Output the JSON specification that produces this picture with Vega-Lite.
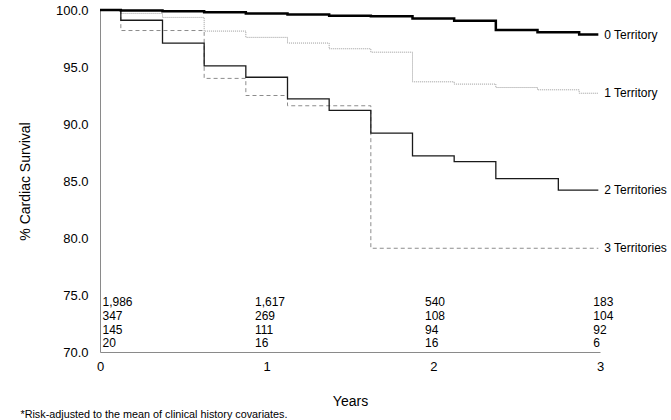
{
  "$schema": "https://vega.github.io/schema/vega-lite/v6.json",
  "width": 500,
  "height": 342,
  "autosize": "none",
  "padding": {"left": 100, "top": 10, "right": 71, "bottom": 68},
  "background": "white",
  "config": {
    "view": {"stroke": null},
    "font": "Liberation Sans",
    "axis": {"grid": false, "ticks": false, "domainColor": "#8a8a8a", "domainWidth": 1, "labelColor": "#000", "titleColor": "#000", "labelFont": "Liberation Sans", "titleFont": "Liberation Sans", "titleFontWeight": "normal"}
  },
  "title": {"text": "*Risk-adjusted to the mean of clinical history covariates.", "orient": "bottom", "anchor": "start", "dx": 2, "offset": 1, "fontSize": 10.8, "fontWeight": "normal", "font": "Liberation Sans", "color": "#000"},
  "datasets": {
    "curves": [
      {"g": "0 Territory", "t": 0, "s": 100}, {"g": "0 Territory", "t": 0.125, "s": 99.95}, {"g": "0 Territory", "t": 0.375, "s": 99.9}, {"g": "0 Territory", "t": 0.625, "s": 99.8}, {"g": "0 Territory", "t": 0.875, "s": 99.7}, {"g": "0 Territory", "t": 1.125, "s": 99.6}, {"g": "0 Territory", "t": 1.375, "s": 99.5}, {"g": "0 Territory", "t": 1.625, "s": 99.45}, {"g": "0 Territory", "t": 1.875, "s": 99.25}, {"g": "0 Territory", "t": 2.125, "s": 99.05}, {"g": "0 Territory", "t": 2.375, "s": 98.25}, {"g": "0 Territory", "t": 2.625, "s": 98.05}, {"g": "0 Territory", "t": 2.875, "s": 97.85}, {"g": "0 Territory", "t": 2.99, "s": 97.85},
      {"g": "1 Territory", "t": 0, "s": 100}, {"g": "1 Territory", "t": 0.125, "s": 99.7}, {"g": "1 Territory", "t": 0.375, "s": 99.35}, {"g": "1 Territory", "t": 0.625, "s": 98.15}, {"g": "1 Territory", "t": 0.875, "s": 97.6}, {"g": "1 Territory", "t": 1.125, "s": 97.1}, {"g": "1 Territory", "t": 1.375, "s": 96.6}, {"g": "1 Territory", "t": 1.625, "s": 96.3}, {"g": "1 Territory", "t": 1.875, "s": 93.7}, {"g": "1 Territory", "t": 2.125, "s": 93.5}, {"g": "1 Territory", "t": 2.375, "s": 93.2}, {"g": "1 Territory", "t": 2.625, "s": 93.0}, {"g": "1 Territory", "t": 2.875, "s": 92.7}, {"g": "1 Territory", "t": 2.99, "s": 92.7},
      {"g": "2 Territories", "t": 0, "s": 100}, {"g": "2 Territories", "t": 0.125, "s": 99.1}, {"g": "2 Territories", "t": 0.375, "s": 97.1}, {"g": "2 Territories", "t": 0.625, "s": 95.1}, {"g": "2 Territories", "t": 0.875, "s": 94.1}, {"g": "2 Territories", "t": 1.125, "s": 92.2}, {"g": "2 Territories", "t": 1.375, "s": 91.2}, {"g": "2 Territories", "t": 1.625, "s": 89.2}, {"g": "2 Territories", "t": 1.875, "s": 87.2}, {"g": "2 Territories", "t": 2.125, "s": 86.7}, {"g": "2 Territories", "t": 2.375, "s": 85.2}, {"g": "2 Territories", "t": 2.75, "s": 84.2}, {"g": "2 Territories", "t": 2.99, "s": 84.2},
      {"g": "3 Territories", "t": 0, "s": 100}, {"g": "3 Territories", "t": 0.125, "s": 98.2}, {"g": "3 Territories", "t": 0.625, "s": 94.0}, {"g": "3 Territories", "t": 0.875, "s": 92.5}, {"g": "3 Territories", "t": 1.125, "s": 91.6}, {"g": "3 Territories", "t": 1.625, "s": 79.1}, {"g": "3 Territories", "t": 2.99, "s": 79.1}
    ],
    "labels": [
      {"g": "0 Territory", "t": 2.99, "s": 97.85},
      {"g": "1 Territory", "t": 2.99, "s": 92.7},
      {"g": "2 Territories", "t": 2.99, "s": 84.2},
      {"g": "3 Territories", "t": 2.99, "s": 79.1}
    ],
    "counts": [
      {"t": 0.015, "s": 74.35, "n": "1,986"}, {"t": 0.015, "s": 73.15, "n": "347"}, {"t": 0.015, "s": 71.95, "n": "145"}, {"t": 0.015, "s": 70.75, "n": "20"},
      {"t": 0.93, "s": 74.35, "n": "1,617"}, {"t": 0.93, "s": 73.15, "n": "269"}, {"t": 0.93, "s": 71.95, "n": "111"}, {"t": 0.93, "s": 70.75, "n": "16"},
      {"t": 1.95, "s": 74.35, "n": "540"}, {"t": 1.95, "s": 73.15, "n": "108"}, {"t": 1.95, "s": 71.95, "n": "94"}, {"t": 1.95, "s": 70.75, "n": "16"},
      {"t": 2.96, "s": 74.35, "n": "183"}, {"t": 2.96, "s": 73.15, "n": "104"}, {"t": 2.96, "s": 71.95, "n": "92"}, {"t": 2.96, "s": 70.75, "n": "6"}
    ]
  },
  "encoding": {
    "x": {"field": "t", "type": "quantitative", "scale": {"domain": [0, 3], "nice": false, "zero": false},
      "axis": {"values": [0, 1, 2, 3], "format": "d", "title": "Years", "labelFlush": false, "labelFontSize": 13, "labelPadding": 8, "titleFontSize": 14, "titlePadding": 21}},
    "y": {"field": "s", "type": "quantitative", "scale": {"domain": [70, 100], "nice": false, "zero": false},
      "axis": {"values": [70, 75, 80, 85, 90, 95, 100], "format": ".1f", "title": "% Cardiac Survival", "labelFontSize": 13, "labelPadding": 12, "titleFontSize": 14, "titlePadding": 23}}
  },
  "layer": [
    {
      "data": {"name": "curves"},
      "transform": [{"filter": "datum.g === '3 Territories'"}],
      "mark": {"type": "line", "interpolate": "step-after", "color": "#8c8c8c", "strokeWidth": 1, "strokeDash": [4, 3]},
      "encoding": {}
    },
    {
      "data": {"name": "curves"},
      "transform": [{"filter": "datum.g === '1 Territory'"}],
      "mark": {"type": "line", "interpolate": "step-after", "color": "#9a9a9a", "strokeWidth": 1, "strokeDash": [1, 1]},
      "encoding": {}
    },
    {
      "data": {"name": "curves"},
      "transform": [{"filter": "datum.g === '2 Territories'"}],
      "mark": {"type": "line", "interpolate": "step-after", "color": "#1a1a1a", "strokeWidth": 1.3},
      "encoding": {}
    },
    {
      "data": {"name": "curves"},
      "transform": [{"filter": "datum.g === '0 Territory'"}],
      "mark": {"type": "line", "interpolate": "step-after", "color": "#000", "strokeWidth": 2.5},
      "encoding": {}
    },
    {
      "data": {"name": "labels"},
      "mark": {"type": "text", "align": "left", "baseline": "middle", "dx": 6, "fontSize": 12, "color": "#000"},
      "encoding": {"text": {"field": "g"}}
    },
    {
      "data": {"name": "counts"},
      "mark": {"type": "text", "align": "left", "baseline": "middle", "fontSize": 12, "color": "#000"},
      "encoding": {"text": {"field": "n"}}
    }
  ]
}
